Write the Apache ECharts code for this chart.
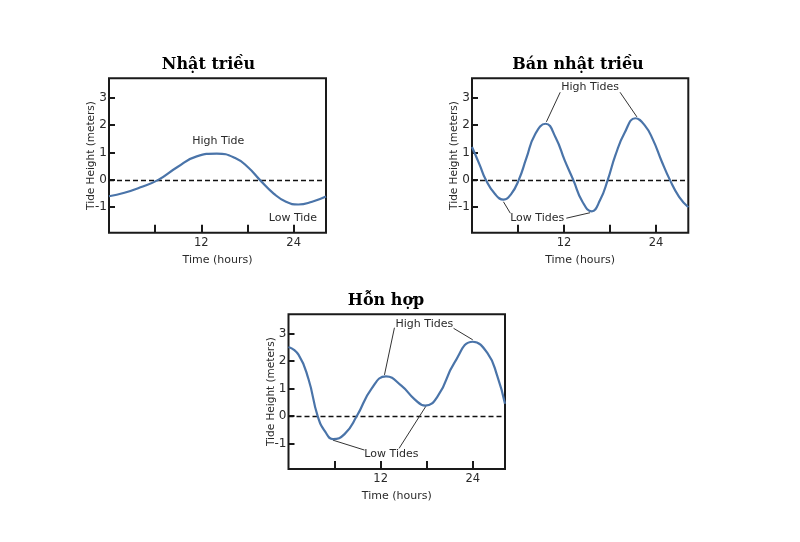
<!DOCTYPE html>
<html>
<head>
<meta charset="utf-8">
<script src="https://cdn.jsdelivr.net/npm/echarts@6/dist/echarts.min.js"></script>
<style>html,body{margin:0;padding:0;background:#fff;}#c{width:800px;height:542px;}</style>
</head>
<body>
<div id="c"></div>
<script>
// ---- data ----
var titles = ['Nhật triều', 'Bán nhật triều', 'Hỗn hợp'];
var xTicks = [6, 12, 18, 24];
var xLabels = [12, 24];
var yTicks = [-1, 0, 1, 2, 3];

var hours1 = [0, 2, 4, 6.4, 8.8, 11.4, 14, 16.4, 18.1, 19.6, 21.4, 23, 24.6, 26.4, 28.2];
var tide1  = [-0.60, -0.47, -0.28, 0, 0.45, 0.86, 0.96, 0.80, 0.45, 0, -0.50, -0.80, -0.90, -0.80, -0.61];

var hours2 = [0, 1, 1.8, 3, 4.1, 5.1, 6.1, 7.1, 8.2, 9.6, 10.9, 12.1, 13.2, 14.4, 15.6, 16.7, 17.7, 18.7, 19.9, 21.3, 22.5, 23.6, 24.7, 25.8, 27, 28.2];
var tide2  = [1.20, 0.55, 0, -0.52, -0.72, -0.52, 0, 0.80, 1.65, 2.05, 1.55, 0.70, 0, -0.80, -1.15, -0.74, 0, 0.90, 1.72, 2.25, 2.00, 1.46, 0.70, 0, -0.62, -1.0];

var hours3 = [0, 1.3, 2.6, 3.8, 4.8, 5.8, 7.3, 8.9, 10.8, 12.7, 14.7, 16.4, 17.8, 19.5, 21.6, 24, 25.9, 27.2, 28.2];
var tide3  = [2.52, 2.24, 1.35, 0, -0.58, -0.84, -0.66, 0, 0.99, 1.45, 1.11, 0.62, 0.38, 0.75, 1.94, 2.71, 2.30, 1.46, 0.45];

// annotations: [text, hour, height]
var labels1 = [['High Tide', 14.2, 1.43], ['Low Tide', 23.9, -1.40]];
var leaders1 = [];
var labels2 = [['High Tides', 15.4, 3.38], ['Low Tides', 8.5, -1.40]];
var leaders2 = [[[11.5, 3.2], [9.7, 2.12]], [[19.3, 3.2], [21.5, 2.3]], [[5.0, -1.22], [4.1, -0.80]], [[12.3, -1.40], [15.4, -1.2]]];
var labels3 = [['High Tides', 17.7, 3.35], ['Low Tides', 13.4, -1.40]];
var leaders3 = [[[13.8, 3.22], [12.5, 1.5]], [[21.5, 3.2], [24.0, 2.78]], [[9.9, -1.24], [5.8, -0.88]], [[14.4, -1.18], [17.9, 0.36]]];

// ---- chart ----
var hoursAll = [hours1, hours2, hours3];
var tideAll = [tide1, tide2, tide3];
var labelsAll = [labels1, labels2, labels3];
var leadersAll = [leaders1, leaders2, leaders3];

var grids = [
  {left: 109, top: 78.3, width: 217, height: 154.4},
  {left: 472, top: 78.3, width: 216.3, height: 154.4},
  {left: 288.5, top: 314.3, width: 216.5, height: 154.7}
];
var titlePos = [[208.5, 64], [578, 64], [386, 300]];

var font = 'DejaVu Sans, Verdana, sans-serif';
var option = {
  animation: false,
  backgroundColor: '#fff',
  grid: grids.map(function (g) {
    return Object.assign({show: true, borderColor: '#1a1a1a', borderWidth: 2, backgroundColor: 'transparent'}, g);
  }),
  xAxis: grids.map(function (g, i) {
    return {
      type: 'value', gridIndex: i, min: 0, max: 28.2,
      name: 'Time (hours)', nameLocation: 'middle', nameGap: 22, nameMoveOverlap: false,
      nameTextStyle: {fontFamily: font, fontSize: 11, color: '#2a2a2a'},
      axisLine: {show: false, onZero: false},
      splitLine: {show: false},
      axisTick: {show: true, inside: true, length: 8, customValues: xTicks, lineStyle: {color: '#1a1a1a', width: 2}},
      axisLabel: {show: true, customValues: xLabels, margin: 4, fontFamily: font, fontSize: 11.5, color: '#2a2a2a'}
    };
  }),
  yAxis: grids.map(function (g, i) {
    return {
      type: 'value', gridIndex: i, min: -1.93, max: 3.71,
      name: 'Tide Height (meters)', nameLocation: 'middle', nameGap: 12, nameRotate: 90, nameMoveOverlap: false,
      nameTextStyle: {fontFamily: font, fontSize: 10.5, color: '#2a2a2a'},
      axisLine: {show: false, onZero: false},
      splitLine: {show: false},
      axisTick: {show: true, inside: true, length: 6, customValues: yTicks, lineStyle: {color: '#1a1a1a', width: 2}},
      axisLabel: {show: true, customValues: yTicks, margin: 2, fontFamily: font, fontSize: 12, color: '#2a2a2a'}
    };
  }),
  graphic: titles.map(function (t, i) {
    return {
      type: 'text', x: titlePos[i][0], y: titlePos[i][1] + 1,
      style: {text: t, font: 'bold 16px "DejaVu Serif", serif', fill: '#000', align: 'center', verticalAlign: 'middle'}
    };
  }),
  series: hoursAll.map(function (hs, i) {
    var data = hs.map(function (h, k) { return [h, tideAll[i][k]]; });
    var ml = [{yAxis: 0, lineStyle: {type: [5, 3], color: '#111', width: 1.3}}];
    leadersAll[i].forEach(function (seg) {
      ml.push([{coord: seg[0], lineStyle: {type: 'solid', color: '#333', width: 1}}, {coord: seg[1]}]);
    });
    return {
      type: 'line', xAxisIndex: i, yAxisIndex: i, data: data,
      smooth: 0.5, showSymbol: false, symbol: 'none',
      lineStyle: {color: '#4a74a9', width: 2.2},
      z: 3,
      markLine: {silent: true, symbol: ['none', 'none'], label: {show: false}, data: ml, z: 2},
      markPoint: {
        silent: true, symbol: 'circle', symbolSize: 0,
        label: {show: true, position: 'inside', color: '#2a2a2a', fontFamily: font, fontSize: 11, formatter: '{b}'},
        data: labelsAll[i].map(function (l) { return {name: l[0], coord: [l[1], l[2]]}; })
      }
    };
  })
};
var chart = echarts.init(document.getElementById('c'), null, {renderer: 'canvas'});
chart.setOption(option);
</script>
</body>
</html>
